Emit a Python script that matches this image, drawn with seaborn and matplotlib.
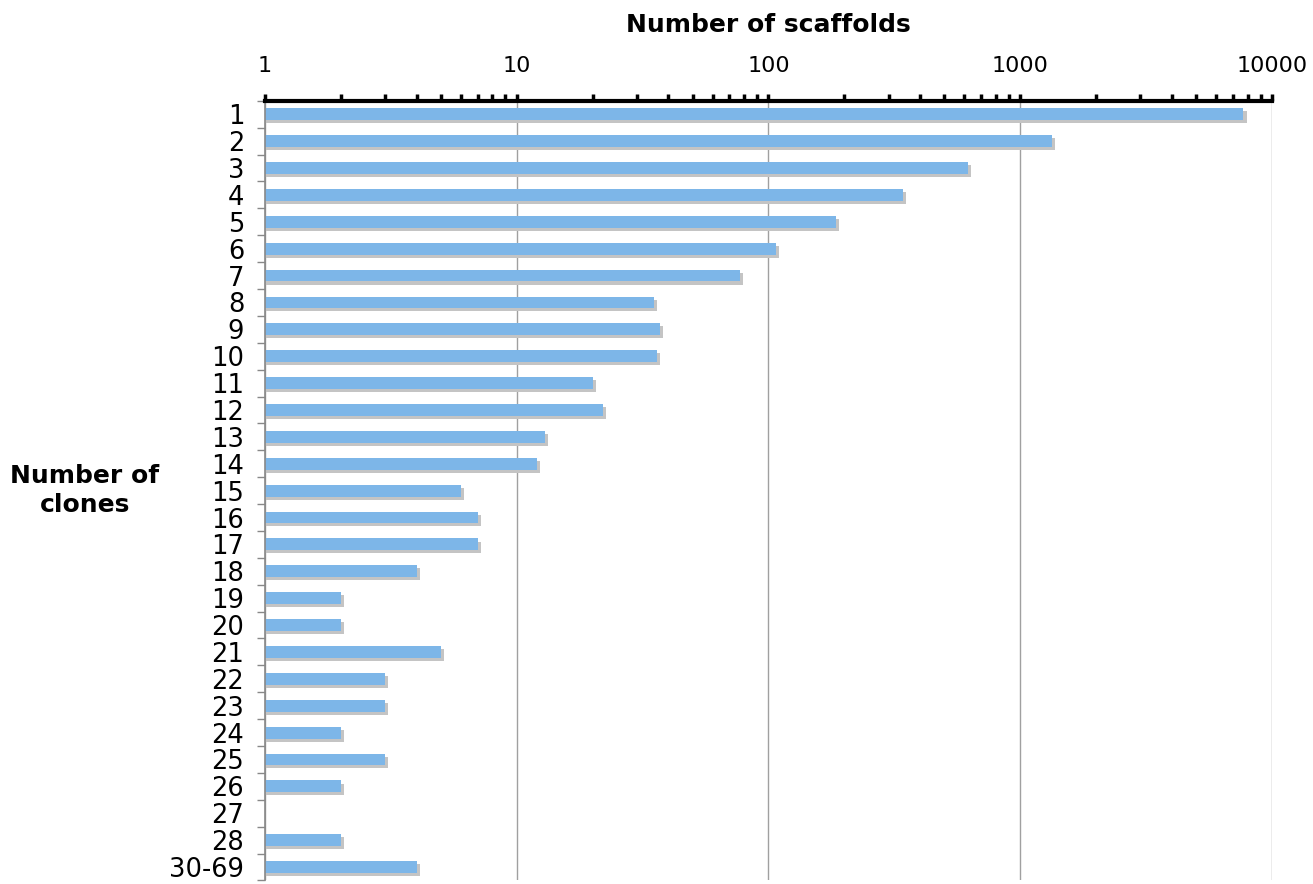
import numpy as np
import pandas as pd
import matplotlib
matplotlib.use("Agg")
import matplotlib.pyplot as plt
import matplotlib.patheffects as pe
from matplotlib.ticker import FixedLocator, LogLocator, NullFormatter
import seaborn as sns

# Values
clones = [str(i) for i in range(1, 29)] + ["30-69"]
scaffolds = [7700, 1340, 620, 342, 185, 107, 77, 35, 37, 36,
             20, 22, 13, 12, 6, 7, 7, 4, 2, 2,
             5, 3, 3, 2, 3, 2, 0, 2, 4]
x_ticks = [1, 10, 100, 1000, 10000]

df = pd.DataFrame({"clones": clones, "scaffolds": scaffolds})

sns.set_style("white")
plt.rcParams["font.family"] = ["DejaVu Sans"]
plt.rcParams["text.color"] = "black"
plt.rcParams["axes.labelcolor"] = "black"
plt.rcParams["xtick.color"] = "black"
plt.rcParams["ytick.color"] = "black"

fig = plt.figure(figsize=(13.13, 8.84), dpi=100)
ax = fig.add_axes([0.2018, 0.004, 0.767, 0.882])

sns.barplot(data=df, x="scaffolds", y="clones", orient="h",
            color="#7db6e8", saturation=1, width=0.44, ax=ax)

# drop shadow behind the bars like the Excel original
for bar in ax.patches:
    bar.set_edgecolor("none")
    bar.set_path_effects([
        pe.SimplePatchShadow(offset=(2.2, -2.2), shadow_rgbFace="#c4c4c4", alpha=1.0),
        pe.Normal(),
    ])

ax.set_xscale("log")
ax.set_xlim(1, 10000)
ax.set_ylim(len(clones) - 0.5, -0.5)

# x axis on top
ax.xaxis.tick_top()
ax.xaxis.set_label_position("top")
ax.set_xticks(x_ticks)
ax.set_xticklabels([str(t) for t in x_ticks], fontsize=16)
ax.xaxis.set_minor_locator(LogLocator(base=10, subs=np.arange(2, 10)))
ax.xaxis.set_minor_formatter(NullFormatter())
ax.tick_params(axis="x", which="both", direction="out", length=5, width=2.5,
               color="black", top=True, bottom=False, pad=13)
ax.set_xlabel("Number of scaffolds", fontsize=18, fontweight="bold", labelpad=17)

# y axis: labels centred on bars, ticks at the boundaries
ax.tick_params(axis="y", which="major", length=0, labelsize=18.5, pad=15)
ax.yaxis.set_minor_locator(FixedLocator(np.arange(-0.5, len(clones), 1.0)))
ax.tick_params(axis="y", which="minor", length=6, width=1, color="#888888", left=True)
ax.set_ylabel("Number of\nclones", fontsize=18, fontweight="bold",
              rotation=0, ha="center", va="center", linespacing=1.3)
ax.yaxis.set_label_coords(-0.179, 0.5)

ax.grid(axis="x", which="major", color="#a0a0a0", linewidth=1)
ax.set_axisbelow(True)

for side in ["right", "bottom"]:
    ax.spines[side].set_visible(False)
ax.spines["top"].set_color("black")
ax.spines["top"].set_linewidth(3)
ax.spines["left"].set_color("#888888")
ax.spines["left"].set_linewidth(1.2)

fig.savefig("out.png", dpi=100)
